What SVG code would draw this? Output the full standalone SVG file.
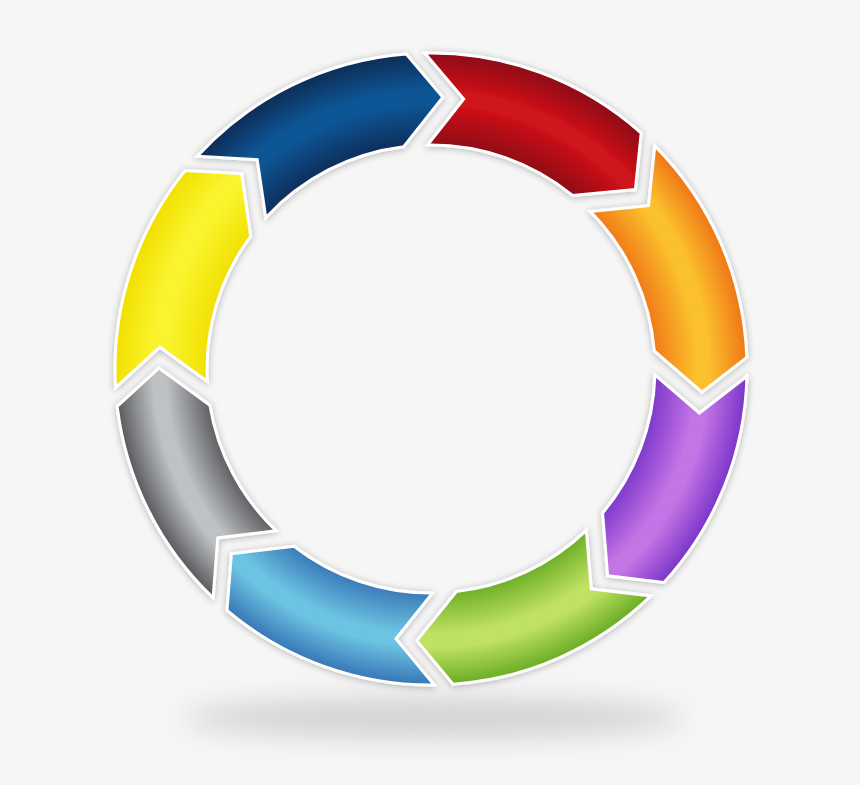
<svg xmlns="http://www.w3.org/2000/svg" width="860" height="785" viewBox="0 0 860 785">
<defs>
<filter id="sh" x="-20%" y="-20%" width="140%" height="140%">
<feDropShadow dx="0" dy="1" stdDeviation="3.5" flood-color="#000" flood-opacity="0.28"/>
</filter>
<filter id="blur" x="-20%" y="-100%" width="140%" height="300%">
<feGaussianBlur stdDeviation="14"/>
</filter>
<radialGradient id="gBlue" gradientUnits="userSpaceOnUse" cx="431" cy="369" r="316">
<stop offset="0.70" stop-color="#0c2c56"/><stop offset="0.84" stop-color="#0a5696"/><stop offset="0.88" stop-color="#0a5696"/><stop offset="1" stop-color="#0c2c56"/>
</radialGradient>
<radialGradient id="gRed" gradientUnits="userSpaceOnUse" cx="431" cy="369" r="316">
<stop offset="0.70" stop-color="#8c0a12"/><stop offset="0.84" stop-color="#cf121a"/><stop offset="0.88" stop-color="#cf121a"/><stop offset="1" stop-color="#8c0a12"/>
</radialGradient>
<radialGradient id="gOrange" gradientUnits="userSpaceOnUse" cx="431" cy="369" r="316">
<stop offset="0.70" stop-color="#f07616"/><stop offset="0.84" stop-color="#fbc02e"/><stop offset="0.88" stop-color="#fbc02e"/><stop offset="1" stop-color="#f07616"/>
</radialGradient>
<radialGradient id="gPurple" gradientUnits="userSpaceOnUse" cx="431" cy="369" r="316">
<stop offset="0.70" stop-color="#7a35c9"/><stop offset="0.84" stop-color="#c474e5"/><stop offset="0.88" stop-color="#c474e5"/><stop offset="1" stop-color="#7a35c9"/>
</radialGradient>
<radialGradient id="gGreen" gradientUnits="userSpaceOnUse" cx="431" cy="369" r="316">
<stop offset="0.70" stop-color="#69ac24"/><stop offset="0.84" stop-color="#c0e262"/><stop offset="0.88" stop-color="#c0e262"/><stop offset="1" stop-color="#69ac24"/>
</radialGradient>
<radialGradient id="gLBlue" gradientUnits="userSpaceOnUse" cx="431" cy="369" r="316">
<stop offset="0.70" stop-color="#3776b6"/><stop offset="0.84" stop-color="#6cc3e2"/><stop offset="0.88" stop-color="#6cc3e2"/><stop offset="1" stop-color="#3776b6"/>
</radialGradient>
<radialGradient id="gGray" gradientUnits="userSpaceOnUse" cx="431" cy="369" r="316">
<stop offset="0.70" stop-color="#58595c"/><stop offset="0.84" stop-color="#bfc2c5"/><stop offset="0.88" stop-color="#bfc2c5"/><stop offset="1" stop-color="#58595c"/>
</radialGradient>
<radialGradient id="gYellow" gradientUnits="userSpaceOnUse" cx="431" cy="369" r="316">
<stop offset="0.70" stop-color="#f2df00"/><stop offset="0.84" stop-color="#faf42e"/><stop offset="0.88" stop-color="#faf42e"/><stop offset="1" stop-color="#f2df00"/>
</radialGradient>
</defs>
<style>
.seg path { stroke: #ffffff; stroke-width: 3; stroke-linejoin: miter; filter: url(#sh); }
</style>
<rect width="860" height="785" fill="#f6f6f6"/>
<ellipse cx="434" cy="718" rx="250" ry="20" fill="#d2d2d2" filter="url(#blur)"/>
<g class="seg">
<g id="seg-darkblue"><path fill="url(#gBlue)" d="M197.3,156.3 A316,316 0 0 1 406.2,54.0 L442.9,97.3 L403.7,146.7 A224,224 0 0 0 265.8,217.7 L257.2,159.7 Z"/></g>
<g id="seg-red"><path fill="url(#gRed)" d="M424.9,53.1 A316,316 0 0 1 641.2,133.1 L635.4,189.5 L572.6,195.4 A224,224 0 0 0 427.5,145.0 L463.7,99.0 Z"/></g>
<g id="seg-orange"><path fill="url(#gOrange)" d="M654.8,145.9 A316,316 0 0 1 746.8,357.4 L702.0,392.2 L654.3,351.0 A224,224 0 0 0 590.2,211.4 L648.5,205.7 Z"/></g>
<g id="seg-purple"><path fill="url(#gPurple)" d="M746.9,376.2 A316,316 0 0 1 664.0,582.5 L607.6,575.8 L602.6,513.0 A224,224 0 0 0 654.9,374.9 L699.4,413.0 Z"/></g>
<g id="seg-green"><path fill="url(#gGreen)" d="M650.9,595.9 A316,316 0 0 1 453.0,684.2 L416.8,640.6 L456.4,591.6 A224,224 0 0 0 586.3,530.4 L591.3,588.8 Z"/></g>
<g id="seg-lightblue"><path fill="url(#gLBlue)" d="M434.3,685.0 A316,316 0 0 1 227.0,610.4 L231.4,553.8 L294.0,546.2 A224,224 0 0 0 432.6,593.0 L396.0,638.7 Z"/></g>
<g id="seg-gray"><path fill="url(#gGray)" d="M213.1,597.8 A316,316 0 0 1 117.2,406.4 L159.0,368.0 L209.9,405.2 A224,224 0 0 0 276.0,530.7 L217.8,537.9 Z"/></g>
<g id="seg-yellow"><path fill="url(#gYellow)" d="M115.6,387.7 A316,316 0 0 1 185.1,170.6 L241.7,173.7 L250.7,236.1 A224,224 0 0 0 207.4,381.5 L159.9,347.2 Z"/></g>
</g>
</svg>
